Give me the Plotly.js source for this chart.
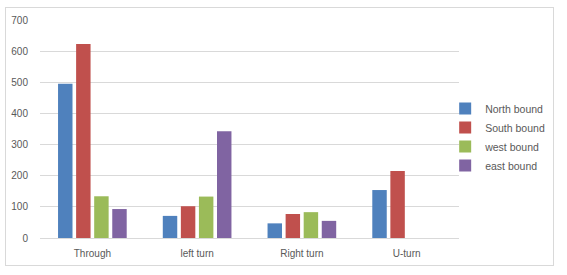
<!DOCTYPE html>
<html><head><meta charset="utf-8">
<script src="https://cdn.plot.ly/plotly-3.0.1.min.js"></script>
<style>
html,body{margin:0;padding:0;background:#fff;}
#frame{position:absolute;left:5px;top:7px;width:549px;height:259px;border:1px solid #d9d9d9;box-sizing:border-box;}
#chart{width:547px;height:257px;}
</style></head>
<body><div id="frame"><div id="chart"></div></div>
<script>
const categories = ["Through", "left turn", "Right turn", "U-turn"];
const seriesNames = ["North bound", "South bound", "west bound", "east bound"];
const northBound = [495, 71, 47, 154];
const southBound = [623, 102, 77, 215];
const westBound = [134, 133, 83, null];
const eastBound = [93, 343, 55, null];
const yTicks = [0, 100, 200, 300, 400, 500, 600, 700];
const colors = ["#4F81BD", "#C0504D", "#9BBB59", "#8064A2"];
const allValues = [northBound, southBound, westBound, eastBound];

const traces = allValues.map((vals, i) => ({
  type: "bar", name: seriesNames[i], x: categories, y: vals,
  marker: {color: colors[i]}, hoverinfo: "none"
}));

const layout = {
  width: 547, height: 257,
  margin: {l: 34, r: 94, t: 12, b: 27, autoexpand: false},
  paper_bgcolor: "#fff", plot_bgcolor: "#fff",
  font: {family: "Liberation Sans, Arial, sans-serif", size: 10, color: "#595959"},
  barmode: "group", bargap: 0.31, bargroupgap: 0.2,
  showlegend: true,
  legend: {x: 0.967, xanchor: "left", y: 0.463, yanchor: "middle", font: {size: 10.5, color: "#595959"},
           itemwidth: 30, tracegroupgap: 0, bgcolor: "rgba(0,0,0,0)"},
  xaxis: {type: "category", showgrid: false, showline: true, linecolor: "#d9d9d9", linewidth: 1,
          ticks: "outside", ticklen: 6, tickcolor: "rgba(0,0,0,0)", tickfont: {size: 10, color: "#595959"}},
  yaxis: {range: [0, 700], tickvals: yTicks, showgrid: true, gridcolor: "#d9d9d9", gridwidth: 1,
          zeroline: false, showline: false, ticks: "outside", ticklen: 9, tickcolor: "rgba(0,0,0,0)",
          tickfont: {size: 10, color: "#595959"}}
};
Plotly.newPlot("chart", traces, layout, {staticPlot: true, displayModeBar: false});
</script></body></html>
